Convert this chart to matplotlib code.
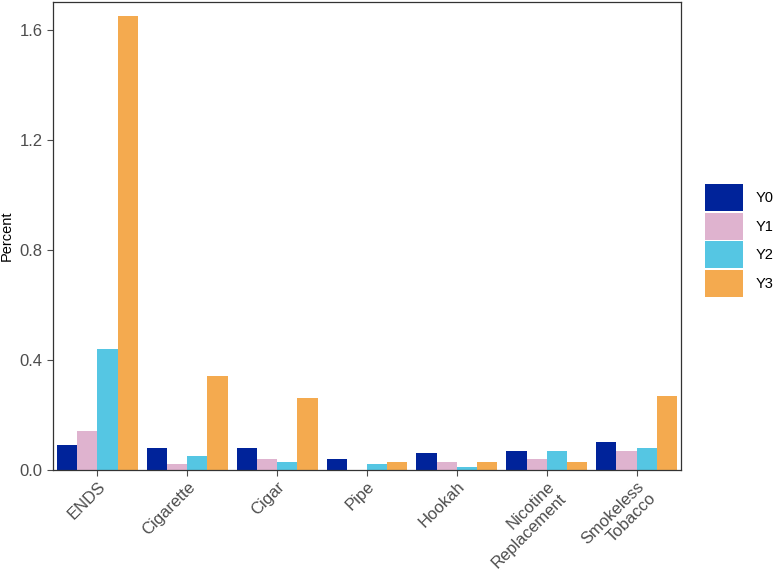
import numpy as np
import matplotlib
matplotlib.use("Agg")
import matplotlib.pyplot as plt

plt.rcParams['font.family'] = ['Liberation Sans', 'DejaVu Sans']

# data
categories = ['ENDS', 'Cigarette', 'Cigar', 'Pipe', 'Hookah',
              'Nicotine\nReplacement', 'Smokeless\nTobacco']
series = ['Y0', 'Y1', 'Y2', 'Y3']
y0 = [0.09, 0.08, 0.08, 0.04, 0.06, 0.07, 0.10]
y1 = [0.14, 0.02, 0.04, 0.00, 0.03, 0.04, 0.07]
y2 = [0.44, 0.05, 0.03, 0.02, 0.01, 0.07, 0.08]
y3 = [1.65, 0.34, 0.26, 0.03, 0.03, 0.03, 0.27]
yticks = [0.0, 0.4, 0.8, 1.2, 1.6]

colors = ['#00239A', '#DFB3CF', '#55C6E3', '#F4AA4F']

fig = plt.figure(figsize=(7.77, 5.76), dpi=100)
ax = fig.add_axes([53 / 777, 106 / 576, 628 / 777, 468 / 576])

x = np.arange(len(categories))
w = 0.225  # 4 bars -> 0.9 group width, like ggplot dodge
for i, (name, vals) in enumerate(zip(series, [y0, y1, y2, y3])):
    ax.bar(x + (i - 1.5) * w, vals, width=w, color=colors[i],
           label=name, linewidth=0)

ax.set_xlim(-0.494, len(categories) - 1 + 0.494)
ax.set_ylim(0, 1.70)
ax.set_yticks(yticks)
ax.set_yticklabels([f'{v:.1f}' for v in yticks])
ax.set_xticks(x)
ax.set_xticklabels(categories, rotation=45, ha='right',
                   rotation_mode='anchor', multialignment='right',
                   linespacing=1.1)
ax.tick_params(axis='both', colors='#4D4D4D', labelsize=12, length=4,
               width=0.8)
ax.tick_params(axis='x', pad=2.5)
for s in ax.spines.values():
    s.set_color('#333333')
    s.set_linewidth(0.9)
ax.set_ylabel('Percent', fontsize=10.5, color='black', labelpad=4)

fig.legend(loc='center left', bbox_to_anchor=(705 / 777, 1 - 240.5 / 576),
           bbox_transform=fig.transFigure, frameon=False, fontsize=10.5,
           handlelength=2.6, handleheight=2.47, labelspacing=0.12,
           handletextpad=0.85, borderpad=0, borderaxespad=0)

fig.savefig('out.png', dpi=100)
